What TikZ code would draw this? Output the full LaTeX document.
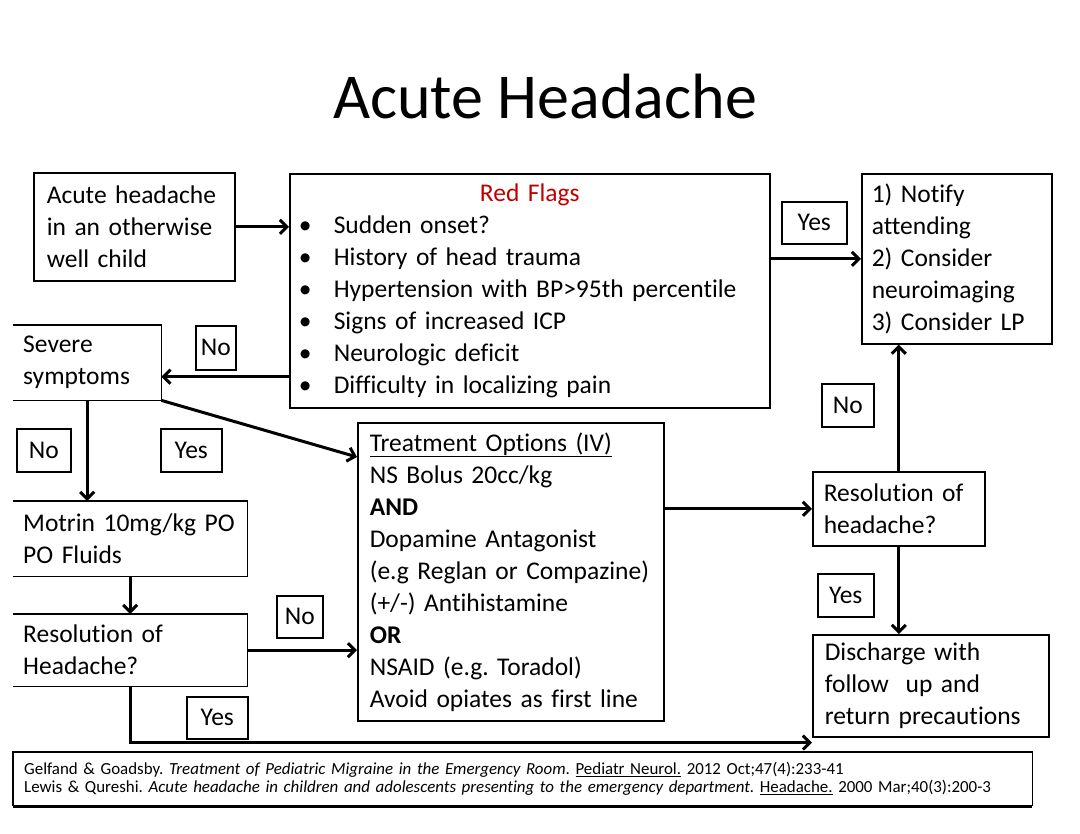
\documentclass[tikz,border=0pt]{standalone}
\usepackage{fontspec}
\setmainfont{Carlito}[Ligatures=NoCommon]
\usetikzlibrary{arrows.meta,calc}
\definecolor{flagred}{RGB}{192,0,0}
\frenchspacing
\tikzset{
  box/.style={draw, line width=1.6pt, anchor=north west, inner ysep=0pt, align=left, font=\fontsize{25.5}{32}\selectfont},
  openbox/.style={anchor=north west, inner ysep=0pt, align=left, font=\fontsize{25.5}{32}\selectfont},
  lbl/.style={draw, line width=1.6pt, anchor=north west, inner sep=0pt, font=\fontsize{25.5}{32}\selectfont},
  arr/.style={line width=3pt, -{Straight Barb[length=7pt,width=14pt]}},
  side/.style={line width=1.6pt}
}
\begin{document}
\begin{tikzpicture}[x=1pt,y=-1pt]
\useasboundingbox (0,0) rectangle (1080,834);
\fill[white] (0,0) rectangle (1080,834);
\node[font=\fontsize{64}{70}\selectfont] (title) at (545,97) {Acute Headache};

\node[box, minimum width=199pt, minimum height=108pt, text width=175pt, inner xsep=13pt] (A) at (33,172) {Acute headache\\in an otherwise\\well child};
\node[box, minimum width=480pt, minimum height=234pt, text width=462pt, inner xsep=9pt] (RF) at (289,173) {\makebox[462pt]{\color{flagred}Red Flags}\\
\makebox[35pt][l]{\textbullet}Sudden onset?\\
\makebox[35pt][l]{\textbullet}History of head trauma\\
\makebox[35pt][l]{\textbullet}Hypertension with BP>95th percentile\\
\makebox[35pt][l]{\textbullet}Signs of increased ICP\\
\makebox[35pt][l]{\textbullet}Neurologic deficit\\
\makebox[35pt][l]{\textbullet}Difficulty in localizing pain};
\node[box, minimum width=184pt, minimum height=170pt, text width=170pt, inner xsep=10pt] (N) at (861,173) {1) Notify\\attending\\2) Consider\\neuroimaging\\3) Consider LP};

\node[openbox, minimum width=148pt, minimum height=75pt, text width=128pt, inner xsep=10pt] (S) at (13,325) {Severe\\symptoms};
\node[openbox, minimum width=234pt, minimum height=75pt, text width=214pt, inner xsep=10pt] (M) at (13,501) {Motrin 10mg/kg PO\\PO Fluids};
\node[openbox, minimum width=234pt, minimum height=72pt, text width=214pt, inner xsep=10pt] (RL) at (13,614) {Resolution of\\Headache?};
\foreach \n in {S,M,RL}
  \draw[side] (\n.north west) -- (\n.north east) -- (\n.south east) -- (\n.south west);

\node[box, minimum width=306pt, minimum height=298pt, text width=282pt, inner xsep=12pt] (T) at (357,422) {\underline{Treatment Options (IV)}\\NS Bolus 20cc/kg\\\textbf{AND}\\Dopamine Antagonist\\(e.g Reglan or Compazine)\\(+/-) Antihistamine\\\textbf{OR}\\NSAID (e.g. Toradol)\\Avoid opiates as first line};
\node[box, minimum width=169pt, minimum height=74pt, text width=150pt, inner xsep=11pt] (RR) at (812,471) {Resolution of\\headache?};
\node[box, minimum width=233pt, minimum height=102pt, text width=212pt, inner xsep=12pt] (D) at (812,634) {Discharge with\\follow~ up and\\return precautions};

\node[lbl, minimum width=65pt, minimum height=42pt] (y1) at (781,201) {Yes};
\node[lbl, minimum width=40pt, minimum height=44pt] (n1) at (195,325) {No};
\node[lbl, minimum width=54pt, minimum height=43pt] (n2) at (16,428) {No};
\node[lbl, minimum width=61pt, minimum height=43pt] (y2) at (160,428) {Yes};
\node[lbl, minimum width=46pt, minimum height=42pt] (n3) at (276,595) {No};
\node[lbl, minimum width=61pt, minimum height=42pt] (y3) at (186,696) {Yes};
\node[lbl, minimum width=52pt, minimum height=43pt] (n4) at (821,383) {No};
\node[lbl, minimum width=56pt, minimum height=43pt] (y4) at (817,573) {Yes};

\node[anchor=north west, minimum width=1019pt, minimum height=54pt, inner xsep=11pt, inner ysep=0pt, align=left, text width=997pt, font=\fontsize{16.9}{18}\selectfont] (F) at (13,752) {Gelfand \& Goadsby. \textit{Treatment of Pediatric Migraine in the Emergency Room}. \underline{Pediatr Neurol.} 2012 Oct;47(4):233-41\\
Lewis \& Qureshi. \textit{Acute headache in children and adolescents presenting to the emergency department.} \underline{Headache.} 2000 Mar;40(3):200-3};
\draw[line width=1.2pt] (F.south west) -- (F.north west) -- (F.north east) -- (F.south east);
\draw[line width=3pt] (F.south west) -- (F.south east);

\coordinate (sin) at ([yshift=-14pt]S.east);
\coordinate (tin) at ([yshift=-35pt]T.north west);
\coordinate (yl) at ([yshift=-5pt]D.south west);

\draw[arr] (A.east) -- (A.east -| RF.west);
\draw[arr] (RF.east |- N.west) -- (N.west);
\draw[arr] (RF.west |- sin) -- (sin);
\draw[arr] (S.south east) -- (tin);
\draw[arr] (S.south) -- (S.south |- M.north);
\draw[arr] (M.south) -- (M.south |- RL.north);
\draw[arr] (RL.east) -- (RL.east -| T.west);
\draw[arr] (RL.south) |- (yl);
\draw[arr] (T.east |- RR.west) -- (RR.west);
\draw[arr] (RR.north) -- (RR.north |- N.south);
\draw[arr] (RR.south) -- (RR.south |- D.north);
\end{tikzpicture}
\end{document}
